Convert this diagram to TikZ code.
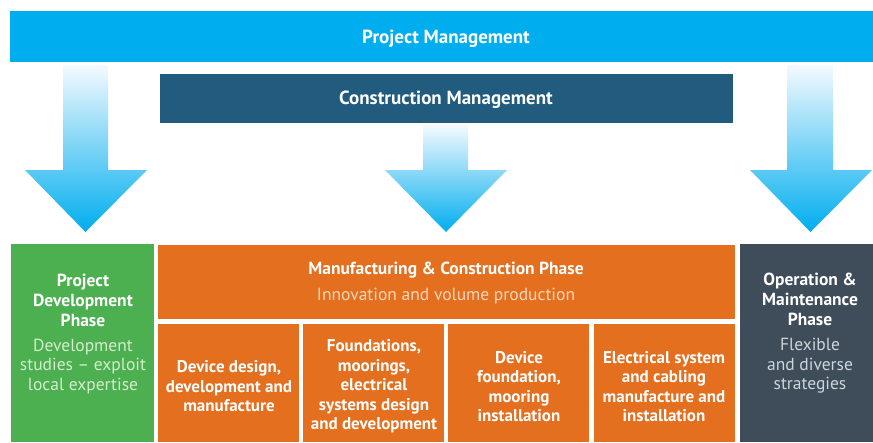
\documentclass[tikz,border=0pt]{standalone}
\usepackage{fontspec}
\setmainfont{PT Sans}
\definecolor{pmblue}{HTML}{00AEEF}
\definecolor{cmblue}{HTML}{215B7E}
\definecolor{phgreen}{HTML}{4CAF50}
\definecolor{phorange}{HTML}{E46F1E}
\definecolor{phgray}{HTML}{3E4D59}
\definecolor{subgreen}{HTML}{D4EDCD}
\definecolor{suborange}{HTML}{FAD6BC}
\definecolor{subgray}{HTML}{CDD5DB}
\definecolor{arrowtop}{HTML}{F4FAFE}
\definecolor{arrowmid}{HTML}{86D2F4}
\definecolor{arrowbot}{HTML}{00ADEE}
\begin{document}
\begin{tikzpicture}[x=1pt,y=-1pt,
  box/.style={draw=none,inner sep=0pt,outer sep=0pt,rectangle},
  bartext/.style={text=white,font=\fontsize{19}{22}\selectfont\bfseries},
  headtext/.style={text=white,align=center,font=\fontsize{17.5}{20}\selectfont\bfseries},
  subtext/.style={align=center,font=\fontsize{17.5}{19.5}\selectfont},
  celltext/.style={text=white,align=center,font=\fontsize{17}{19.5}\selectfont\bfseries},
  downarrow/.style={top color=arrowtop,middle color=arrowmid,bottom color=arrowbot,draw=none}]
% page frame
\useasboundingbox (0,0) rectangle (873,442);
\fill[white] (0,0) rectangle (873,442);

% management bars
\node[box,fill=pmblue,minimum width=863pt,minimum height=51pt] (pm) at (441.5,36.5) {};
\node[bartext] (pmtext) at (446,38.5) {Project Management};
\node[box,fill=cmblue,minimum width=573pt,minimum height=49pt] (cm) at (446.5,98.5) {};
\node[bartext] (cmtext) at (446,100) {Construction Management};

% block arrows from the management bars to the phases
\shade[downarrow] (63,65) -- (108,65) -- (108,170) -- (147,170) -- (85.5,232)
  -- (25,170) -- (63,170) -- cycle;
\shade[downarrow] (423,125) -- (468,125) -- (468,170) -- (507,170) -- (446,232)
  -- (385,170) -- (423,170) -- cycle;
\shade[downarrow] (787,65) -- (833,65) -- (833,170) -- (872,170) -- (810.5,232)
  -- (750,170) -- (787,170) -- cycle;

% project development phase
\node[box,fill=phgreen,minimum width=143pt,minimum height=198pt] (dev) at (82.5,343) {};
\node[headtext] (devtitle) at (83,300) {Project\\Development\\Phase};
\node[subtext,text=subgreen] (devsub) at (83,366.5) {Development\\studies – exploit\\local expertise};

% manufacturing and construction phase
\node[box,fill=phorange,minimum width=577pt,minimum height=74pt] (man) at (446.5,281.5) {};
\node[headtext] (mantitle) at (446,270) {Manufacturing \& Construction Phase};
\node[subtext,text=suborange] (mansub) at (446,296) {Innovation and volume production};

\node[box,fill=phorange,minimum width=141pt,minimum height=118pt] (c1) at (228.5,383) {};
\node[box,fill=phorange,minimum width=141pt,minimum height=118pt] (c2) at (373.5,383) {};
\node[box,fill=phorange,minimum width=141pt,minimum height=118pt] (c3) at (518.5,383) {};
\node[box,fill=phorange,minimum width=141pt,minimum height=118pt] (c4) at (664.5,383) {};
\node[celltext] (c1text) at (229,386.5) {Device design,\\development and\\manufacture};
\node[celltext] (c2text) at (374,386.5) {Foundations,\\moorings,\\electrical\\systems design\\and development};
\node[celltext] (c3text) at (519,386.5) {Device\\foundation,\\mooring\\installation};
\node[celltext] (c4text) at (664,386.5) {Electrical system\\and cabling\\manufacture and\\installation};

% operation and maintenance phase
\node[box,fill=phgray,minimum width=133pt,minimum height=198pt] (om) at (806.5,343) {};
\node[headtext] (omtitle) at (810,299.5) {Operation \&\\Maintenance\\Phase};
\node[subtext,text=subgray] (omsub) at (810,366) {Flexible\\and diverse\\strategies};
\end{tikzpicture}
\end{document}
